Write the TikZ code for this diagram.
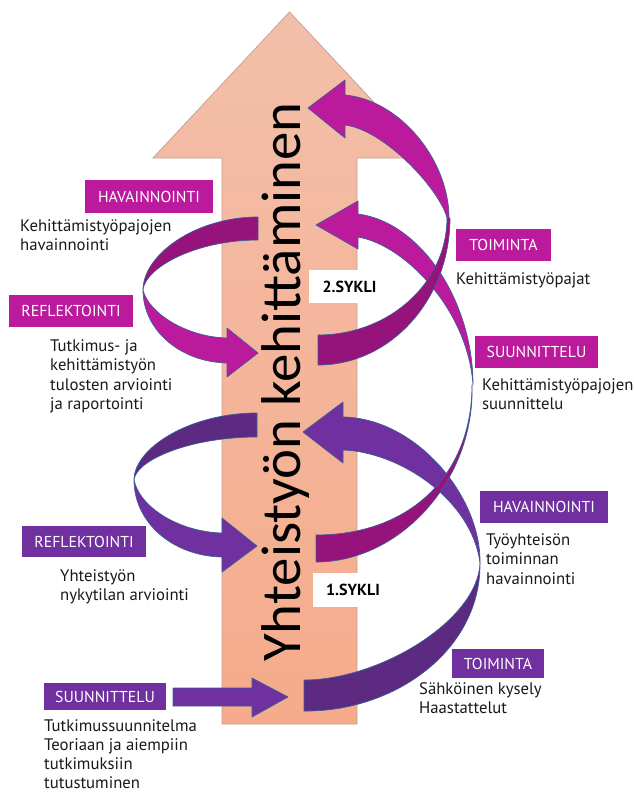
\documentclass[tikz,border=0pt]{standalone}
\usepackage{fontspec}
\setmainfont{PT Sans}
\newfontfamily\bigfont{Carlito}
\definecolor{mag}{HTML}{BC1A9C}
\definecolor{magdark}{HTML}{95137A}
\definecolor{pur}{HTML}{7030A0}
\definecolor{purdark}{HTML}{5C2A80}
\definecolor{edgeblue}{HTML}{3B5E96}
\definecolor{bigtop}{HTML}{F3BFAA}
\definecolor{bigbot}{HTML}{F5AB8B}
\definecolor{bigedge}{HTML}{C3A393}
\begin{document}
\begin{tikzpicture}[x=1pt,y=-1pt,
  band/.style={draw=edgeblue, line width=0.7pt, line join=round},
  magbox/.style={fill=mag, text=white, inner sep=0pt, font=\fontsize{15.8}{18}\selectfont},
  purbox/.style={fill=pur, text=white, inner sep=0pt, font=\fontsize{15.8}{18}\selectfont},
  desc/.style={anchor=base west, align=left, inner sep=0pt, font=\fontsize{16.7}{19.5}\selectfont, text=black!90},
  syklibox/.style={fill=white, inner sep=0pt, font=\bfseries\fontsize{16}{18}\selectfont}
]
\useasboundingbox (0,0) rectangle (633,793);
\fill[white] (0,0) rectangle (633,793);

% big arrow
\shade[top color=bigtop, bottom color=bigbot, draw=bigedge, line width=0.8pt]
  (222,724) -- (222,158) -- (153,158) -- (289.5,12) -- (426,158) -- (357,158) -- (357,724) -- cycle;
\node[rotate=90, anchor=base, inner sep=0pt, font=\bigfont\fontsize{56}{60}\selectfont] (title) at (300,382) {\scalebox{1.015}[1]{Yhteistyön kehittäminen}};

% cycle boxes
\node[syklibox, minimum width=81pt, minimum height=33pt] (s2) at (349.5,286.5) {2.SYKLI};
\node[syklibox, minimum width=81pt, minimum height=34pt] (s1) at (353,590) {1.SYKLI};

% label boxes
\node[magbox, minimum width=128pt, minimum height=33pt] (mh) at (149,196.5) {HAVAINNOINTI};
\node[magbox, minimum width=124pt, minimum height=32pt] (mr) at (71,311) {REFLEKTOINTI};
\node[magbox, minimum width=95pt, minimum height=32pt] (mt) at (503.5,245) {TOIMINTA};
\node[magbox, minimum width=123pt, minimum height=32pt] (ms) at (536.5,352) {SUUNNITTELU};
\node[purbox, minimum width=128pt, minimum height=32pt] (ph) at (544,507) {HAVAINNOINTI};
\node[purbox, minimum width=124pt, minimum height=31pt] (pr) at (84,541.5) {REFLEKTOINTI};
\node[purbox, minimum width=92pt, minimum height=29pt] (pt) at (498,663.5) {TOIMINTA};
\node[purbox, minimum width=122pt, minimum height=27pt] (ps) at (105,696.5) {SUUNNITTELU};

% descriptions (anchor = baseline of the last line)
\node[desc] (dmh) at (20,250.5) {Kehittämistyöpajojen\\havainnointi};
\node[desc] (dmr) at (50,409.5) {Tutkimus- ja\\kehittämistyön\\tulosten arviointi\\ja raportointi};
\node[desc] (dmt) at (456,284) {Kehittämistyöpajat};
\node[desc] (dms) at (482,409.5) {Kehittämistyöpajojen\\suunnittelu};
\node[desc] (dph) at (486,584) {Työyhteisön\\toiminnan\\havainnointi};
\node[desc] (dpr) at (60,600.5) {Yhteistyön\\nykytilan arviointi};
\node[desc] (dpt) at (419,713.5) {Sähköinen kysely\\Haastattelut};
\node[desc, font=\fontsize{16.7}{19}\selectfont] (dps) at (44,788) {Tutkimussuunnitelma\\Teoriaan ja aiempiin\\tutkimuksiin\\tutustuminen};

% bottom-left loop (purple, reflektointi)
\path[band, fill=purdark] (257,413) .. controls (190,413) and (134,448) .. (134,480)
  .. controls (136,460) and (190,437) .. (257,437) -- cycle;
\path[band, fill=pur] (134,480) .. controls (134,522) and (172,556) .. (222,557)
  -- (222,572) -- (257,546) -- (222,518) -- (222,533)
  .. controls (180,532) and (140,508) .. (134,480) -- cycle;

% top-left loop (magenta, havainnointi)
\path[band, fill=magdark] (258,217) .. controls (195,217) and (143,255) .. (143,290)
  .. controls (145,268) and (195,240) .. (258,240) -- cycle;
\path[band, fill=mag] (143,290) .. controls (143,330) and (180,362) .. (227,363)
  -- (227,377) -- (258,353) -- (227,328) -- (227,338)
  .. controls (185,337) and (148,312) .. (143,290) -- cycle;

% straight arrow (suunnittelu)
\path[band, fill=pur] (173,688) -- (252,688) -- (252,678) -- (288,697) -- (252,717) -- (252,706) -- (173,706) -- cycle;

% bottom right loop (purple, toiminta)
\path[band, fill=pur] (343,417) .. controls (415,418) and (481,495) .. (480,563)
  .. controls (472,500) and (400,452) .. (343,450) -- (343,463) -- (303,432) -- (343,402) -- cycle;
\path[band, fill=purdark] (304,680) .. controls (380,680) and (478,620) .. (480,563)
  .. controls (481,650) and (395,712) .. (304,711) -- cycle;

% top right lower loop (magenta, suunnittelu)
\path[band, fill=mag] (358,214) .. controls (420,222) and (473,300) .. (473,385)
  .. controls (468,310) and (405,245) .. (358,237) -- (358,249) -- (316,225) -- (358,201) -- cycle;
\path[band, fill=magdark] (316,535) .. controls (410,535) and (472,475) .. (472,385)
  .. controls (475,480) and (400,562) .. (316,562) -- cycle;

% top right upper loop (magenta, toiminta)
\path[band, fill=mag] (345,95) .. controls (400,100) and (449,160) .. (449,218)
  -- (447,218) .. controls (440,190) and (385,130) .. (345,125) -- (345,138) -- (308,108) -- (345,80) -- cycle;
\path[band, fill=magdark] (318,335) .. controls (389,335) and (447,283) .. (447,218)
  -- (450,218) .. controls (450,299) and (391,365) .. (318,365) -- cycle;
\end{tikzpicture}
\end{document}
